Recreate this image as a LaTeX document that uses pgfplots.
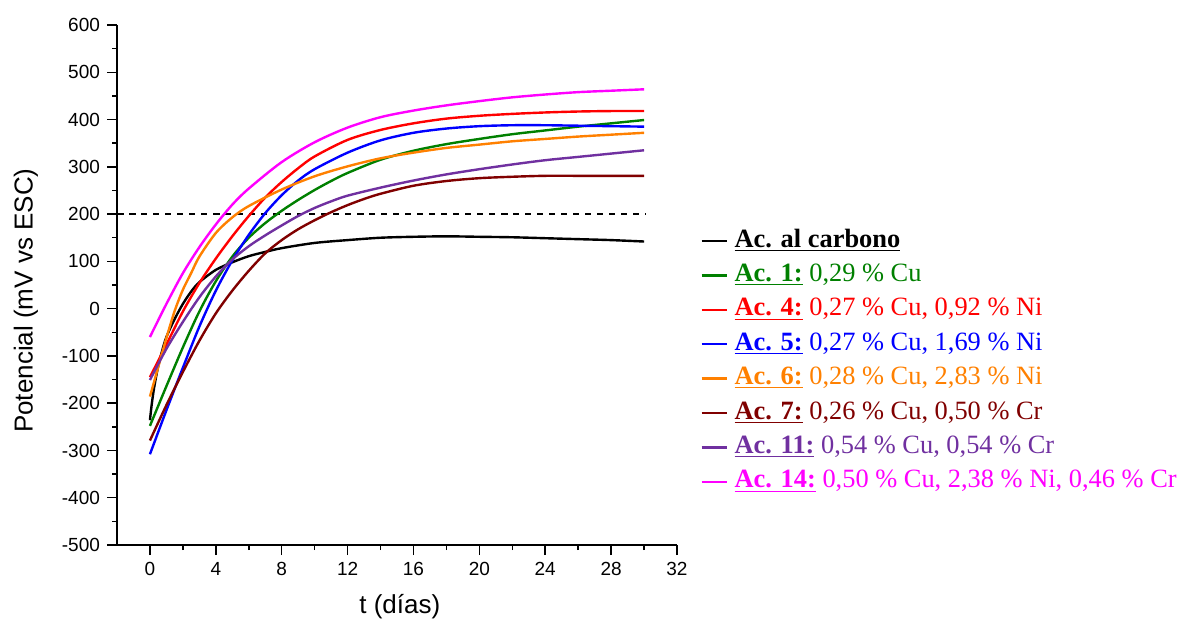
\documentclass[border=0pt]{standalone}
\usepackage{fontspec}
\setmainfont{Liberation Serif}
\setsansfont{Liberation Sans}
\usepackage{pgfplots}
\pgfplotsset{compat=1.18}
\definecolor{cgreen}{RGB}{0,128,0}
\definecolor{corange}{RGB}{255,128,0}
\definecolor{cmaroon}{RGB}{128,0,0}
\definecolor{cpurple}{RGB}{112,48,160}
\definecolor{cmag}{RGB}{255,0,255}
\begin{document}
\begin{tikzpicture}
\path[use as bounding box] (-58.5pt,-38.5pt) rectangle (532pt,272.5pt);
\begin{axis}[
  scale only axis, width=280pt, height=260pt,
  xmin=-2, xmax=32, ymin=-500, ymax=600,
  axis x line*=bottom, axis y line*=left,
  axis line style={line width=0.75pt},
  every tick/.style={line width=0.75pt, black},
  tick align=outside,
  major tick length=5pt, minor tick length=2.5pt,
  xtick={0,4,8,12,16,20,24,28,32},
  xticklabels={0,4,8,12,16,20,24,28,32},
  ytick={-500,-400,-300,-200,-100,0,100,200,300,400,500,600},
  yticklabels={{-500},{-400},{-300},{-200},{-100},{0},{100},{200},{300},{400},{500},{600}},
  minor x tick num=1, minor y tick num=1,
  tick label style={font=\sffamily\fontsize{9.5}{10}\selectfont},
  xlabel={t (días)}, ylabel={Potencial (mV vs ESC)},
  label style={font=\sffamily\fontsize{13}{14}\selectfont},
  xlabel style={at={(axis description cs:0.505,-0.119)}, anchor=center},
  ylabel style={at={(axis description cs:-0.1625,0.47)}, anchor=center},
  legend cell align=left,
  legend style={at={(axis description cs:1.041,0.353)}, anchor=west, draw=none, fill=none,
    inner sep=0pt, row sep=4.2pt,
    nodes={inner sep=0pt, text height=9.5pt, text depth=3.5pt, font=\fontsize{13.2}{14}\selectfont}},
  legend image code/.code={\draw[#1] (0pt,0pt) -- (12.5pt,0pt); \path[draw=none, fill=none] (0pt,0pt) -- (16.5pt,0pt);},
  every axis plot/.append style={line width=1.2pt, smooth},
]
\addplot[black, dashed, line width=0.9pt, forget plot, smooth=false] coordinates {(-2,200) (30.1,200)};
\addplot[black] table {
0 -236
0.1 -205
0.25 -168
0.5 -122
0.75 -88
1 -60
1.5 -22
2 10
2.5 36
3 56
4 82
5 98
6 111
7 120
8 128
10 139
12 145
14 150
16 152
18 153
20 152
22 151
24 149
26 147
28 145
30 142
};
\addlegendentry{\underline{\textbf{Ac. al carbono}}}
\addplot[cgreen] table {
0 -248
1 -164
2 -82
3 -6
4 58
5 110
6 150
7 181
8 207
9 230
10 251
11 270
12 287
14 315
16 334
18 348
20 359
22 369
24 377
26 385
28 392
30 399
};
\addlegendentry{\textcolor{cgreen}{\underline{\textbf{Ac. 1:}} 0,29 \% Cu}}
\addplot[red] table {
0 -145
1 -76
2 -6
3 54
4 106
5 153
6 196
7 235
8 268
9 297
10 322
12 357
14 378
16 392
18 402
20 408
22 412
24 415
26 417
28 418
30 418
};
\addlegendentry{\textcolor{red}{\underline{\textbf{Ac. 4:}} 0,27 \% Cu, 0,92 \% Ni}}
\addplot[blue] table {
0 -308
1 -215
2 -125
3 -38
4 38
5 102
6 156
7 202
8 240
9 271
10 295
12 330
14 356
16 372
18 381
20 386
22 388
24 388
26 387
28 386
30 385
};
\addlegendentry{\textcolor{blue}{\underline{\textbf{Ac. 5:}} 0,27 \% Cu, 1,69 \% Ni}}
\addplot[corange] table {
0 -186
0.5 -124
1 -62
1.5 -5
2 40
2.5 75
3 110
4 160
5 193
6 217
8 252
10 280
12 301
14 318
16 330
18 340
20 347
22 354
24 359
26 364
28 368
30 372
};
\addlegendentry{\textcolor{corange}{\underline{\textbf{Ac. 6:}} 0,28 \% Cu, 2,83 \% Ni}}
\addplot[cmaroon] table {
0 -279
1 -204
2 -134
3 -68
4 -10
5 38
6 80
7 117
8 145
9 168
10 187
11 204
12 219
13 232
14 243
16 260
18 270
20 276
22 279
24 281
26 281
28 281
30 281
};
\addlegendentry{\textcolor{cmaroon}{\underline{\textbf{Ac. 7:}} 0,26 \% Cu, 0,50 \% Cr}}
\addplot[cpurple] table {
0 -151
1 -85
2 -28
3 24
4 68
5 104
6 132
7 155
8 176
9 196
10 213
11 227
12 239
14 256
16 271
18 284
20 295
22 305
24 314
26 321
28 328
30 335
};
\addlegendentry{\textcolor{cpurple}{\underline{\textbf{Ac. 11:}} 0,54 \% Cu, 0,54 \% Cr}}
\addplot[cmag] table {
0 -60
1 10
2 75
3 130
4 178
5 220
6 254
8 310
10 352
12 383
14 405
16 419
18 430
20 439
22 447
24 453
26 458
28 461
30 464
};
\addlegendentry{\textcolor{cmag}{\underline{\textbf{Ac. 14:}} 0,50 \% Cu, 2,38 \% Ni, 0,46 \% Cr}}
\end{axis}
\end{tikzpicture}
\end{document}
